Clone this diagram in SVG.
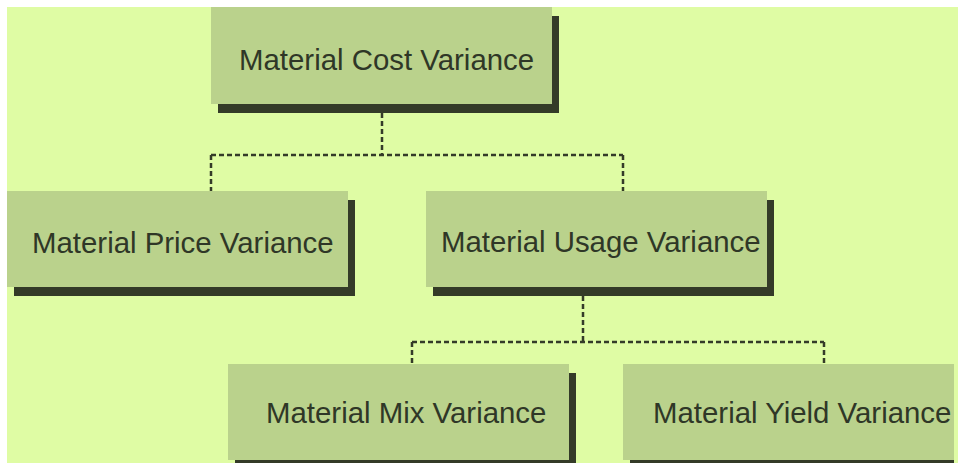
<svg xmlns="http://www.w3.org/2000/svg" width="958" height="463" viewBox="0 0 958 463">
<style>
.box{fill:#BAD28C}
.sh{fill:#343B28}
.lbl{font-family:"Liberation Sans",Arial,sans-serif;font-size:29.4px;fill:#2F3727}
.con{fill:none;stroke:#343B28;stroke-width:2.5;stroke-dasharray:5 3}
</style>
<rect x="0" y="0" width="958" height="463" fill="#FFFFFF"/>
<rect x="7" y="7" width="951" height="456" fill="#DFFCA4"/>
<g id="connectors">
<path class="con" d="M382 113 V155 M211 155 H623 M211 155 V191 M623 155 V191"/>
<path class="con" d="M583 296 V342 M412 342 H824 M412 342 V364 M824 342 V364"/>
</g>
<g id="node-cost">
<rect class="sh" x="218" y="16" width="341" height="97"/>
<rect class="box" x="211" y="7" width="341" height="97"/>
<text class="lbl" x="239" y="70">Material Cost Variance</text>
</g>
<g id="node-price">
<rect class="sh" x="14" y="200" width="341" height="96"/>
<rect class="box" x="7" y="191" width="341" height="96"/>
<text class="lbl" x="32" y="253">Material Price Variance</text>
</g>
<g id="node-usage">
<rect class="sh" x="433" y="200" width="341" height="96"/>
<rect class="box" x="426" y="191" width="341" height="96"/>
<text class="lbl" x="441" y="252">Material Usage Variance</text>
</g>
<g id="node-mix">
<rect class="sh" x="235" y="373" width="341" height="96"/>
<rect class="box" x="228" y="364" width="341" height="96"/>
<text class="lbl" x="266" y="423">Material Mix Variance</text>
</g>
<g id="node-yield">
<rect class="sh" x="630" y="373" width="324" height="96"/>
<rect class="box" x="623" y="364" width="331" height="96"/>
<text class="lbl" x="653" y="423">Material Yield Variance</text>
</g>
</svg>
